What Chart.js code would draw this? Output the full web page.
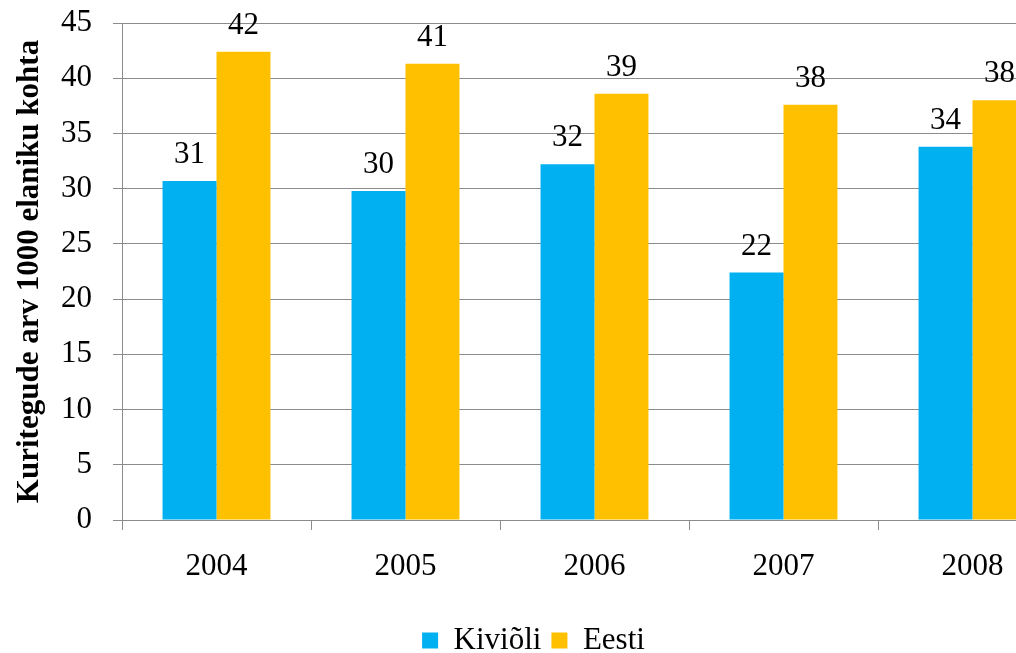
<!DOCTYPE html>
<html>
<head>
<meta charset="utf-8">
<script src="https://cdn.jsdelivr.net/npm/chart.js@4.4.0/dist/chart.umd.min.js"></script>
<style>
html, body { margin: 0; padding: 0; background: #fff; overflow: hidden; width: 1016px; height: 653px; }
#wrap { width: 1070px; height: 666px; }
</style>
</head>
<body>
<div id="wrap"><canvas id="chart-kuriteod"></canvas></div>
<script>
var aastad = ['2004', '2005', '2006', '2007', '2008'];
var kivioli = [30.7, 29.8, 32.2, 22.4, 33.8];
var eesti = [42.4, 41.3, 38.6, 37.6, 38.0];
var y_ticks = [0, 5, 10, 15, 20, 25, 30, 35, 40, 45];

const FONT = '"Liberation Serif", "Times New Roman", serif';
const GRID = '#8c8c8c';

// value labels above bars (no datalabels plugin offline)
const barLabels = {
    id: 'barLabels',
    afterDatasetsDraw: (chart) => {
        const ctx = chart.ctx;
        ctx.save();
        ctx.font = '31px ' + FONT;
        ctx.fillStyle = '#000';
        ctx.textAlign = 'center';
        ctx.textBaseline = 'alphabetic';
        chart.data.datasets.forEach((ds, i) => {
            chart.getDatasetMeta(i).data.forEach((el, j) => {
                ctx.fillText(Math.round(ds.data[j]), el.x, el.y - 18);
            });
        });
        ctx.restore();
    }
};

new Chart(document.getElementById('chart-kuriteod'), {
    type: 'bar',
    data: {
        labels: aastad,
        datasets: [{
            label: 'Kiviõli',
            data: kivioli,
            backgroundColor: '#00B0F0',
            borderWidth: 0
        }, {
            label: 'Eesti',
            data: eesti,
            backgroundColor: '#FFC000',
            borderWidth: 0
        }]
    },
    options: {
        responsive: true,
        maintainAspectRatio: false,
        animation: false,
        layout: {
            padding: { top: 23, left: 0, right: 3, bottom: 0 }
        },
        datasets: {
            bar: { categoryPercentage: 0.571, barPercentage: 1 }
        },
        plugins: {
            legend: {
                position: 'bottom',
                labels: {
                    boxWidth: 16,
                    boxHeight: 16,
                    padding: 10,
                    color: '#000',
                    font: { family: FONT, size: 31 }
                }
            },
            tooltip: { enabled: false }
        },
        scales: {
            x: {
                afterFit: (s) => { s.height = 95; },
                grid: {
                    offset: true,
                    drawOnChartArea: false,
                    tickLength: 10,
                    color: GRID
                },
                border: { color: GRID, width: 1 },
                ticks: {
                    color: '#000',
                    padding: 18,
                    font: { family: FONT, size: 31 }
                }
            },
            y: {
                min: 0,
                max: 45,
                afterFit: (s) => {
                    s.width = 122;
                    s.paddingTop = 0;
                    s.paddingBottom = 0;
                },
                afterBuildTicks: (s) => { s.ticks = y_ticks.map(v => ({ value: v })); },
                grid: { color: GRID, tickLength: 9 },
                border: { color: GRID, width: 1 },
                ticks: {
                    color: '#000',
                    padding: 21,
                    font: { family: FONT, size: 31 }
                },
                title: {
                    display: true,
                    text: 'Kuritegude arv 1000 elaniku kohta',
                    color: '#000',
                    padding: { top: 11, bottom: 0 },
                    font: { family: FONT, size: 31, weight: 'bold' }
                }
            }
        }
    },
    plugins: [barLabels]
});
</script>
</body>
</html>
